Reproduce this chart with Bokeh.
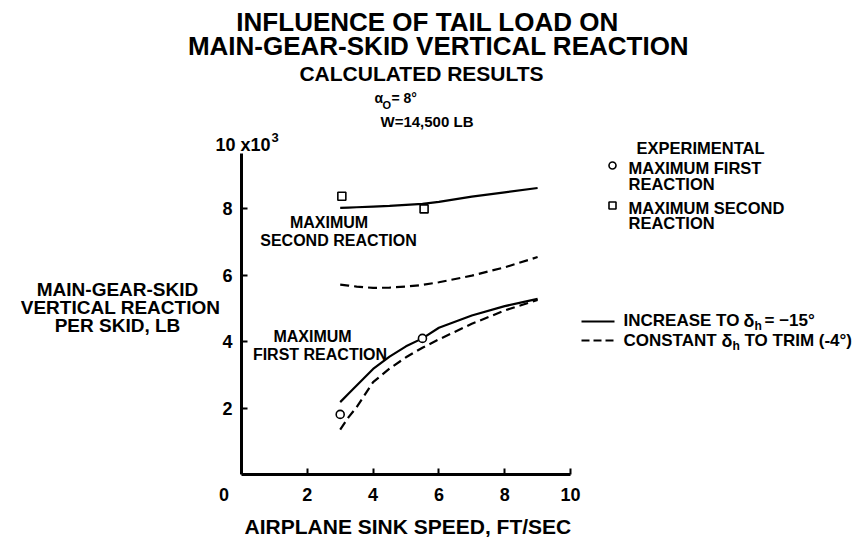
from bokeh.plotting import figure
from bokeh.models import Range1d, FixedTicker, Label
from bokeh.embed import file_html
from bokeh.resources import INLINE

# ---- data ----
speed_calc = [3.0, 3.25, 3.5, 4.0, 4.5, 5.0, 5.5, 6.0, 7.0, 8.0, 9.0]
second_increase = [8.03, 8.04, 8.05, 8.07, 8.09, 8.12, 8.15, 8.21, 8.37, 8.50, 8.63]
second_constant = [5.72, 5.69, 5.66, 5.62, 5.63, 5.66, 5.71, 5.79, 5.99, 6.24, 6.55]
first_increase = [2.18, 2.43, 2.68, 3.18, 3.55, 3.86, 4.10, 4.42, 4.79, 5.07, 5.29]
first_constant = [1.35, 1.72, 2.03, 2.78, 3.19, 3.53, 3.82, 4.07, 4.54, 4.94, 5.26]
exp_first_speed = [3.0, 5.5]
exp_first_reaction = [1.81, 4.10]
exp_second_speed = [3.05, 5.55]
exp_second_reaction = [8.38, 8.00]
x_ticks = [0, 2, 4, 6, 8, 10]
y_ticks = [2, 4, 6, 8]
x_axis_bounds = (0, 10)
y_axis_bounds = (0, 9.67)

FONT = "Liberation Sans"
W, H = 859, 542
LEFT, BOTTOM = 20, 68
# page px mapping: x=0 -> 241, 32.9 px/unit ; y=0 -> 474, 33.2 px/unit
X0, SX, Y0, SY = 241.0, 32.9, 474.0, 33.2

p = figure(width=W, height=H, title=None,
           x_range=Range1d((LEFT - X0) / SX, (W - X0) / SX),
           y_range=Range1d(0, Y0 / SY),
           output_backend="svg", toolbar_location=None,
           min_border_left=LEFT, min_border_right=0,
           min_border_top=0, min_border_bottom=BOTTOM)
p.outline_line_color = None
p.grid.visible = False
p.background_fill_color = "white"
p.border_fill_color = "white"

p.xaxis.ticker = FixedTicker(ticks=x_ticks)
p.yaxis.ticker = FixedTicker(ticks=y_ticks)
p.xaxis.bounds = x_axis_bounds
p.yaxis.bounds = y_axis_bounds
p.yaxis.fixed_location = 0
p.xaxis.major_label_overrides = {0: "0" + "\u00a0" * 7}
for ax in (p.xaxis, p.yaxis):
    ax.axis_line_width = 3
    ax.axis_line_color = "black"
    ax.major_tick_in = 6
    ax.major_tick_out = 0
    ax.major_tick_line_width = 2
    ax.major_tick_line_color = "black"
    ax.minor_tick_line_color = None
    ax.major_label_text_font = FONT
    ax.major_label_text_font_size = "18px"
    ax.major_label_text_font_style = "bold"
    ax.major_label_text_color = "black"
p.xaxis.major_label_standoff = 10
p.yaxis.major_label_standoff = 9
# trailing no-break spaces shift the centred label left onto the 0..10 axis span
p.xaxis.axis_label = "AIRPLANE SINK SPEED, FT/SEC" + "\u00a0" * 11
p.xaxis.axis_label_text_font = FONT
p.xaxis.axis_label_text_font_size = "21px"
p.xaxis.axis_label_text_font_style = "bold"
p.xaxis.axis_label_text_color = "black"
p.xaxis.axis_label_standoff = 7

# curves
p.line(speed_calc, second_increase, line_width=2.2, line_color="black")
p.line(speed_calc, second_constant, line_width=2.2, line_color="black", line_dash="9 5")
p.line(speed_calc, first_increase, line_width=2.2, line_color="black")
p.line(speed_calc, first_constant, line_width=2.2, line_color="black", line_dash="9 5")

p.scatter(exp_first_speed, exp_first_reaction, marker="circle", size=8,
          fill_color="white", line_color="black", line_width=1.6)
p.scatter(exp_second_speed, exp_second_reaction, marker="square", size=8,
          fill_color="white", line_color="black", line_width=1.6)


def dx(px):
    return (px - X0) / SX


def dy(py):
    return (Y0 - py) / SY


# legend samples
p.scatter([dx(612)], [dy(165)], marker="circle", size=7,
          fill_color="white", line_color="black", line_width=1.6)
p.scatter([dx(612)], [dy(205)], marker="square", size=7,
          fill_color="white", line_color="black", line_width=1.6)
p.line([dx(581), dx(614)], [dy(321), dy(321)], line_width=2.2, line_color="black")
p.line([dx(581), dx(614)], [dy(340), dy(340)], line_width=2.2, line_color="black",
       line_dash="8 4")


def lab(text, px, py, size, align="center"):
    p.add_layout(Label(x=dx(px), y=dy(py), text=text, text_font=FONT,
                       text_font_size=f"{size}px", text_font_style="bold",
                       text_align=align, text_baseline="middle",
                       text_color="black"))


# titles
lab("INFLUENCE OF TAIL LOAD ON", 427, 21, 26)
lab("MAIN-GEAR-SKID VERTICAL REACTION", 438, 45, 26)
lab("CALCULATED RESULTS", 421, 73, 21)
lab("\u03b1", 374, 97, 14, "left")
lab("O", 382, 104, 11, "left")
lab("=\u00a08\u00b0", 391, 97, 14, "left")
lab("W=14,500 LB", 380, 121, 15, "left")

# axis texts
lab("10 x10", 215, 144, 18, "left")
lab("3", 271, 137, 13, "left")
lab("MAIN-GEAR-SKID", 117, 289, 19)
lab("VERTICAL REACTION", 120, 306.5, 19)
lab("PER SKID, LB", 117, 325, 19)

# curve annotations
lab("MAXIMUM", 328.5, 222, 16)
lab("SECOND REACTION", 338, 240, 16)
lab("MAXIMUM", 312, 336, 16)
lab("FIRST REACTION", 319.5, 354, 16)

# legend texts
lab("EXPERIMENTAL", 700, 147, 16.5)
lab("MAXIMUM FIRST", 628, 167, 16.5, "left")
lab("REACTION", 628, 183, 16.5, "left")
lab("MAXIMUM SECOND", 628, 207, 16.5, "left")
lab("REACTION", 628, 222, 16.5, "left")
lab("INCREASE TO", 623, 320, 17, "left")
lab("\u03b4", 743, 320, 18, "left")
lab("h", 754, 325, 12, "left")
lab("=\u00a0\u221215\u00b0", 764, 320, 17, "left")
lab("CONSTANT", 623, 340, 17, "left")
lab("\u03b4", 721, 340, 18, "left")
lab("h", 732, 345, 12, "left")
lab("TO TRIM (-4\u00b0)", 744, 340, 17, "left")

open("out.html", "w").write(file_html(p, INLINE))
